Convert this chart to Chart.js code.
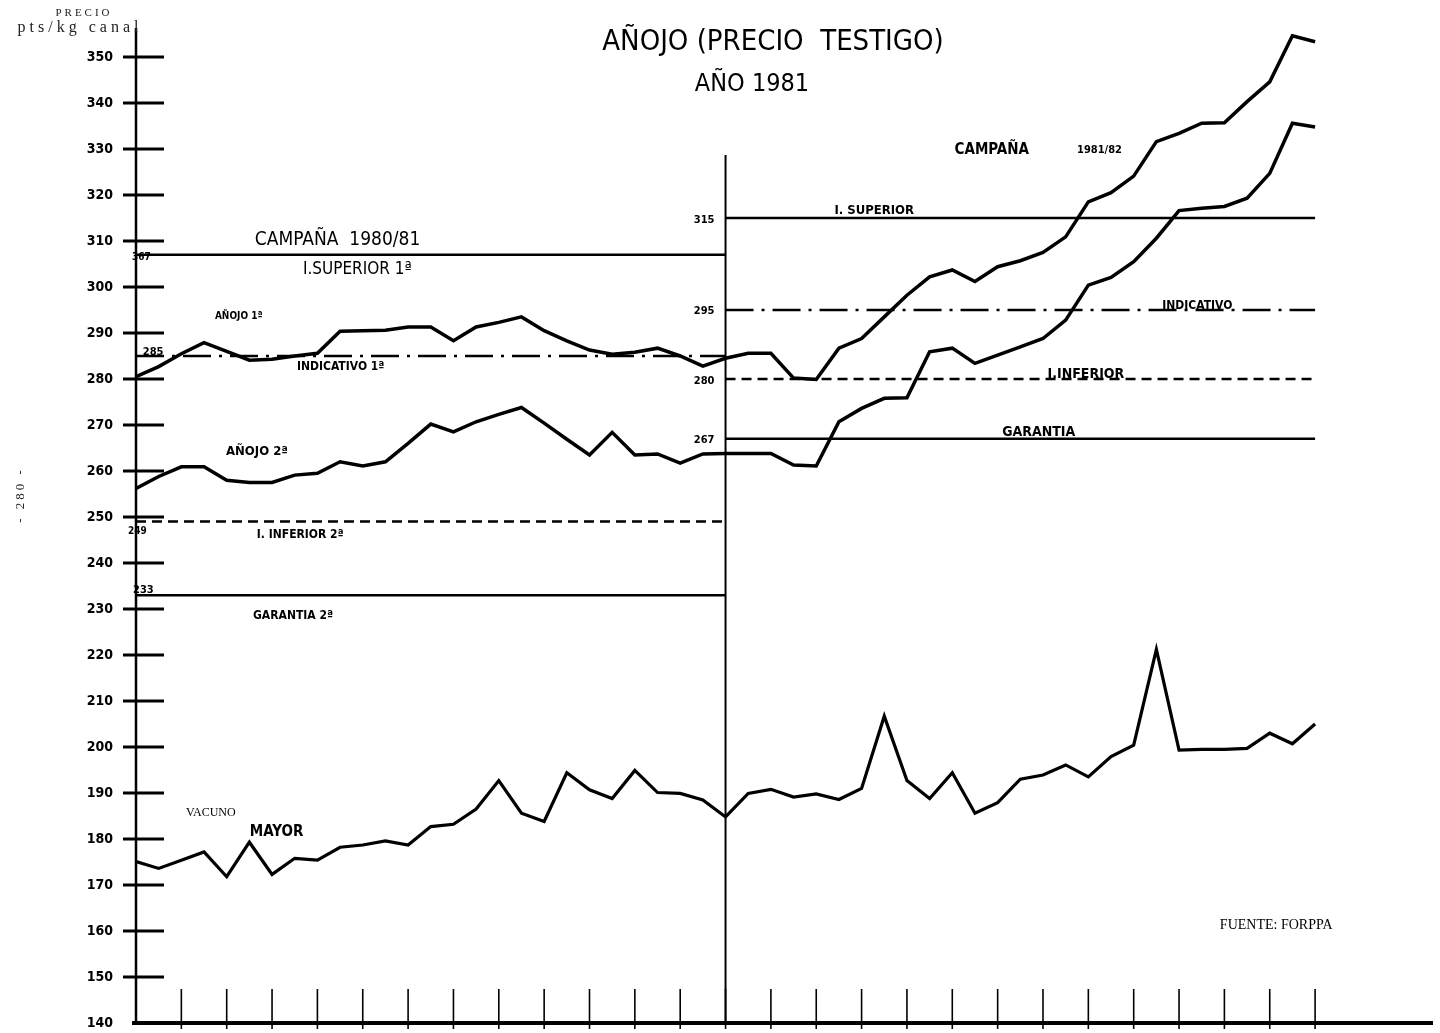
<!DOCTYPE html>
<html>
<head>
<meta charset="utf-8">
<script src="https://cdn.jsdelivr.net/npm/chart.js@4.4.1/dist/chart.umd.min.js"></script>
<style>
  html, body { margin: 0; background: #fff; }
  #wrap { width: 1440px; height: 1033px; position: relative; }
</style>
</head>
<body>
<div id="wrap"><canvas id="chart"></canvas></div>
<script>
// semanas 0..52 ; la 26 separa la campaña 1980/81 de la 1981/82
const anojo1 = [280.5, 282.7, 285.5, 287.9, 286.0, 284.1, 284.3, 285.0, 285.6, 290.4,
  290.5, 290.6, 291.3, 291.3, 288.3, 291.3, 292.3, 293.5, 290.5, 288.3,
  286.3, 285.4, 285.8, 286.7, 285.0, 282.8, 284.5, 285.6, 285.6, 280.2,
  279.9, 286.7, 288.8, 293.5, 298.2, 302.2, 303.7, 301.2, 304.4, 305.7,
  307.5, 310.9, 318.5, 320.5, 324.1, 331.6, 333.4, 335.6, 335.7, 340.3,
  344.6, 354.6, 353.3]
const anojo2 = [256.2, 258.8, 260.9, 260.9, 258.0, 257.5, 257.5, 259.1, 259.5, 262.0,
  261.1, 262.0, 266.0, 270.2, 268.5, 270.7, 272.3, 273.8, 270.4, 266.9,
  263.5, 268.4, 263.5, 263.7, 261.7, 263.7, 263.8, 263.8, 263.8, 261.3,
  261.1, 270.7, 273.6, 275.8, 275.9, 285.9, 286.7, 283.4, 285.2, 287.0,
  288.8, 292.8, 300.4, 302.1, 305.5, 310.6, 316.6, 317.1, 317.5, 319.3,
  324.7, 335.6, 334.8]
const vacunoMayor = [175.1, 173.6, 175.4, 177.2, 171.8, 179.3, 172.3, 175.8, 175.4, 178.2,
  178.7, 179.6, 178.7, 182.7, 183.2, 186.5, 192.7, 185.6, 183.8, 194.4,
  190.7, 188.8, 194.9, 190.1, 189.9, 188.5, 184.8, 189.9, 190.8, 189.1,
  189.8, 188.6, 191.0, 206.7, 192.7, 188.8, 194.4, 185.6, 187.9, 193.0,
  193.9, 196.1, 193.5, 197.9, 200.4, 221.2, 199.3, 199.5, 199.5, 199.7,
  203.0, 200.7, 205.0]

// precios de referencia: superior, indicativo, inferior, garantia
const limites8081 = [307, 285, 249, 233]
const limites8182 = [315, 295, 280, 267]
const semanaCorte = 26
const semanaFin = 52
const corteTope = 328.7

const yTicks = [140, 150, 160, 170, 180, 190, 200, 210, 220, 230, 240, 250,
  260, 270, 280, 290, 300, 310, 320, 330, 340, 350]
const xTicks = [2, 4, 6, 8, 10, 12, 14, 16, 18, 20, 22, 24, 26,
  28, 30, 32, 34, 36, 38, 40, 42, 44, 46, 48, 50, 52]

const SANS = '"DejaVu Sans Condensed", "Liberation Sans Narrow", sans-serif'
const SERIF = '"Liberation Serif", "DejaVu Serif", serif'

const dashes = [[], [28, 8, 3, 8], [10, 6], []]

const toPts = arr => arr.map((v, i) => ({ x: i, y: v }))

function limitLines(vals, from, to) {
  return vals.map((v, k) => ({
    data: [{ x: from, y: v }, { x: to, y: v }],
    borderDash: dashes[k],
    borderWidth: 2.5
  }))
}

// rotulos dentro del grafico, anclados en (semana, precio)
const rotulos = [
  { t: 'CAMPAÑA  1980/81', x: 5.24, y: 310.2, f: '19px ' + SANS },
  { t: 'I.SUPERIOR 1ª', x: 7.36, y: 303.7, f: '17px ' + SANS },
  { t: 'AÑOJO 1ª', x: 3.48, y: 293.7, f: 'bold 10px ' + SANS },
  { t: 'INDICATIVO 1ª', x: 7.1, y: 282.6, f: 'bold 12px ' + SANS },
  { t: 'AÑOJO 2ª', x: 3.97, y: 264.3, f: 'bold 13px ' + SANS },
  { t: 'I. INFERIOR 2ª', x: 5.33, y: 246.1, f: 'bold 12px ' + SANS },
  { t: 'GARANTIA 2ª', x: 5.16, y: 228.5, f: 'bold 12px ' + SANS },
  { t: 'VACUNO', x: 2.2, y: 185.7, f: '12px ' + SERIF },
  { t: 'MAYOR', x: 5.02, y: 181.5, f: 'bold 15px ' + SANS },
  { t: 'CAMPAÑA', x: 36.1, y: 329.8, f: 'bold 15px ' + SANS },
  { t: '1981/82', x: 41.5, y: 329.8, f: 'bold 11px ' + SANS },
  { t: 'I. SUPERIOR', x: 30.8, y: 316.5, f: 'bold 13px ' + SANS },
  { t: 'INDICATIVO', x: 45.26, y: 295.9, f: 'bold 12px ' + SANS },
  { t: 'I.INFERIOR', x: 40.2, y: 281.1, f: 'bold 14px ' + SANS },
  { t: 'GARANTIA', x: 38.2, y: 268.5, f: 'bold 14px ' + SANS },
  { t: 'FUENTE: FORPPA', x: 47.8, y: 161.3, f: '14px ' + SERIF },
  { t: '367', x: -0.18, y: 306.5, f: 'bold 10px ' + SANS },
  { t: '285', x: 0.3, y: 285.9, f: 'bold 11px ' + SANS },
  { t: '249', x: -0.35, y: 246.9, f: 'bold 10px ' + SANS },
  { t: '233', x: -0.13, y: 234.1, f: 'bold 11px ' + SANS },
  { t: '315', x: 24.6, y: 314.6, f: 'bold 11px ' + SANS },
  { t: '295', x: 24.6, y: 294.8, f: 'bold 11px ' + SANS },
  { t: '280', x: 24.6, y: 279.6, f: 'bold 11px ' + SANS },
  { t: '267', x: 24.6, y: 266.7, f: 'bold 11px ' + SANS }
]

const decor = {
  id: 'decor',
  afterDraw(chart) {
    const { ctx, chartArea: a, scales: { x, y } } = chart
    ctx.save()
    ctx.strokeStyle = '#000'
    ctx.fillStyle = '#000'
    ctx.lineCap = 'butt'

    // ejes
    ctx.lineWidth = 2.5
    ctx.beginPath(); ctx.moveTo(a.left, a.top); ctx.lineTo(a.left, a.bottom); ctx.stroke()
    ctx.lineWidth = 4
    ctx.beginPath(); ctx.moveTo(a.left - 4, a.bottom); ctx.lineTo(a.right, a.bottom); ctx.stroke()

    // marcas del eje Y (cruzan el eje)
    ctx.lineWidth = 3
    yTicks.forEach(v => {
      if (v === 140) return
      const py = y.getPixelForValue(v)
      ctx.beginPath(); ctx.moveTo(a.left - 13, py); ctx.lineTo(a.left + 28, py); ctx.stroke()
    })
    // marcas del eje X (hacia arriba)
    ctx.lineWidth = 1.6
    xTicks.forEach(v => {
      const px = x.getPixelForValue(v)
      ctx.beginPath(); ctx.moveTo(px, a.bottom + 6); ctx.lineTo(px, a.bottom - 34); ctx.stroke()
    })

    // rotulos
    ctx.textAlign = 'left'
    ctx.textBaseline = 'middle'
    rotulos.forEach(r => {
      ctx.font = r.f
      ctx.fillText(r.t, x.getPixelForValue(r.x), y.getPixelForValue(r.y))
    })

    // titulos
    ctx.textAlign = 'center'
    ctx.font = '29px ' + SANS
    ctx.fillText('AÑOJO (PRECIO  TESTIGO)', 773, 42)
    ctx.font = '25px ' + SANS
    ctx.fillText('AÑO 1981', 752, 84)

    ctx.fillStyle = '#222'
    ctx.letterSpacing = '3px'
    ctx.font = '11px ' + SERIF
    ctx.fillText('PRECIO', 84, 13)
    ctx.letterSpacing = '4px'
    ctx.font = '16px ' + SERIF
    ctx.fillText('pts/kg canal', 80, 28)

    ctx.translate(21, 495)
    ctx.rotate(-Math.PI / 2)
    ctx.letterSpacing = '3px'
    ctx.font = '13px ' + SERIF
    ctx.fillText('- 280 -', 0, 0)
    ctx.restore()
  }
}

const datasets = [
  { data: toPts(anojo1), borderWidth: 3.5 },
  { data: toPts(anojo2), borderWidth: 3.5 },
  { data: toPts(vacunoMayor), borderWidth: 3.2 },
  ...limitLines(limites8081, 0, semanaCorte),
  ...limitLines(limites8182, semanaCorte, semanaFin),
  { data: [{ x: semanaCorte, y: 140 }, { x: semanaCorte, y: corteTope }], borderWidth: 2 }
]

new Chart(document.getElementById('chart'), {
  type: 'line',
  data: { datasets },
  options: {
    responsive: true,
    maintainAspectRatio: false,
    animation: false,
    layout: { autoPadding: false, padding: { top: 28, right: 7, left: 0, bottom: 0 } },
    plugins: { legend: { display: false }, tooltip: { enabled: false } },
    elements: {
      point: { radius: 0 },
      line: { tension: 0, borderColor: '#000', borderJoinStyle: 'miter', borderCapStyle: 'butt', fill: false }
    },
    scales: {
      x: {
        type: 'linear', min: 0, max: 57.2,
        ticks: { display: false },
        grid: { display: false, drawTicks: false },
        border: { display: false },
        afterFit: s => { s.height = 10 }
      },
      y: {
        min: 140, max: 356.3,
        afterBuildTicks: s => { s.ticks = yTicks.map(v => ({ value: v })) },
        ticks: { color: '#000', padding: 0, font: { family: SANS, size: 14, weight: 'bold' } },
        grid: { display: false, drawTicks: true, tickLength: 23 },
        border: { display: false },
        afterFit: s => { s.width = 136 }
      }
    }
  },
  plugins: [decor]
})
</script>
</body>
</html>
